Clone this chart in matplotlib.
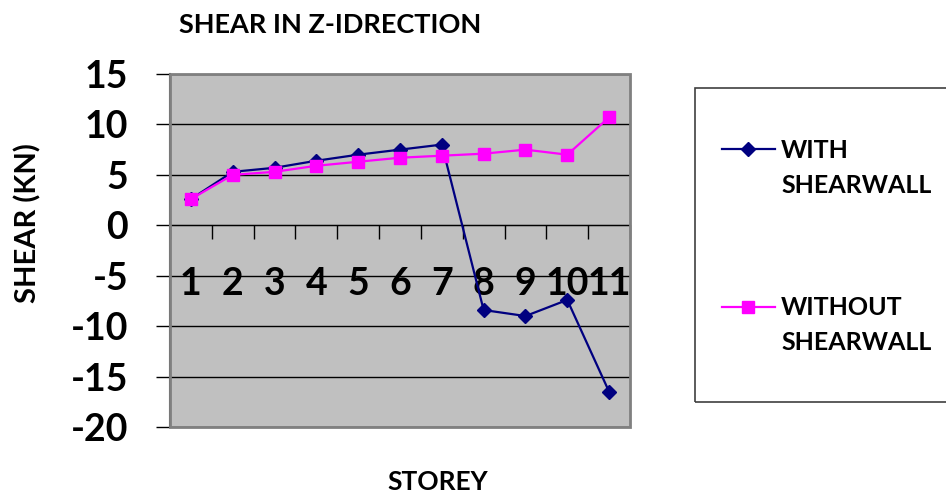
import matplotlib
matplotlib.use("Agg")
import matplotlib.pyplot as plt
from matplotlib.lines import Line2D
from matplotlib.patches import Rectangle

plt.rcParams['font.family'] = ['Lato', 'DejaVu Sans']
plt.rcParams['font.weight'] = 'bold'

storeys = ['1', '2', '3', '4', '5', '6', '7', '8', '9', '10', '11']
with_shearwall = [2.6, 5.3, 5.7, 6.4, 7.0, 7.5, 8.0, -8.4, -9.0, -7.4, -16.5]
without_shearwall = [2.6, 5.0, 5.3, 5.9, 6.3, 6.7, 6.9, 7.1, 7.5, 7.0, 10.7]
yticks = [15, 10, 5, 0, -5, -10, -15, -20]
series_names = ['WITH\nSHEARWALL', 'WITHOUT\nSHEARWALL']

W, H = 946, 497
fig = plt.figure(figsize=(W / 100, H / 100), dpi=100)

def fx(px):
    return px / W

def fy(py):
    return 1 - py / H

ax = fig.add_axes([fx(170), fy(427), fx(630) - fx(170), fy(74) - fy(427)])
ax.set_facecolor('#C0C0C0')

# spines first (moving a spine resets the ticks)
ax.spines['bottom'].set_position(('data', 0))
ax.spines['bottom'].set_color('black')
ax.spines['left'].set_color('#303030')
ax.spines['left'].set_linewidth(1.5)
ax.spines['top'].set_visible(False)
ax.spines['right'].set_visible(False)

x = list(range(1, len(storeys) + 1))
blue = '#000080'
pink = '#FF00FF'
ax.plot(x, with_shearwall, color=blue, lw=1.6, marker='D', ms=7, mec=blue, mfc=blue, zorder=3)
ax.plot(x, without_shearwall, color=pink, lw=1.6, marker='s', ms=9, mec=pink, mfc=pink, zorder=4)

ax.set_xlim(0.5, len(storeys) + 0.5)
ax.set_ylim(-20, 15)
ax.set_yticks(yticks)
ax.set_yticklabels([str(v) for v in yticks])
ax.yaxis.grid(True, color='black', lw=1)
ax.set_axisbelow(True)

# category labels
ax.set_xticks(x)
ax.set_xticklabels(storeys)
ax.set_xticks([i + 0.5 for i in range(0, len(storeys) + 1)], minor=True)
ax.tick_params(axis='x', which='major', length=0, pad=30, labelsize=27)
ax.tick_params(axis='x', which='minor', direction='out', length=10, width=1, color='black')
ax.tick_params(axis='y', direction='out', length=10, width=1, color='black', pad=20, labelsize=27)
for lab in ax.get_xticklabels() + ax.get_yticklabels():
    lab.set_fontweight('bold')

ax.add_patch(Rectangle((0, 0), 1, 1, transform=ax.transAxes, fill=False,
                       edgecolor='#808080', lw=2, zorder=5, clip_on=False))

# texts
fig.text(fx(330), fy(33), 'SHEAR IN Z-IDRECTION', ha='center', va='baseline',
         fontsize=19.5, fontweight='bold')
fig.text(fx(36), fy(223), 'SHEAR (KN)', rotation=90, rotation_mode='anchor',
         ha='center', va='baseline', fontsize=21, fontweight='bold')
fig.text(fx(438), fy(490), 'STOREY', ha='center', va='baseline',
         fontsize=19, fontweight='bold')

# legend box
fig.patches.append(Rectangle((fx(695), fy(402)), fx(960) - fx(695), fy(88) - fy(402),
                             transform=fig.transFigure, fill=False,
                             edgecolor='#404040', lw=1.2, figure=fig))
entries = [(blue, 'D', 7, 149, 158, 193), (pink, 's', 9, 307, 315, 350)]
for (col, mk, ms, ly, b1, b2), name in zip(entries, series_names):
    fig.add_artist(Line2D([fx(722), fx(775)], [fy(ly), fy(ly)], color=col, lw=1.6,
                          transform=fig.transFigure))
    fig.add_artist(Line2D([fx(748)], [fy(ly)], color=col, marker=mk, ms=ms,
                          mec=col, mfc=col, transform=fig.transFigure))
    l1, l2 = name.split('\n')
    fig.text(fx(781), fy(b1), l1, ha='left', va='baseline', fontsize=18, fontweight='bold')
    fig.text(fx(781), fy(b2), l2, ha='left', va='baseline', fontsize=18, fontweight='bold')

fig.savefig('out.png', dpi=100)
